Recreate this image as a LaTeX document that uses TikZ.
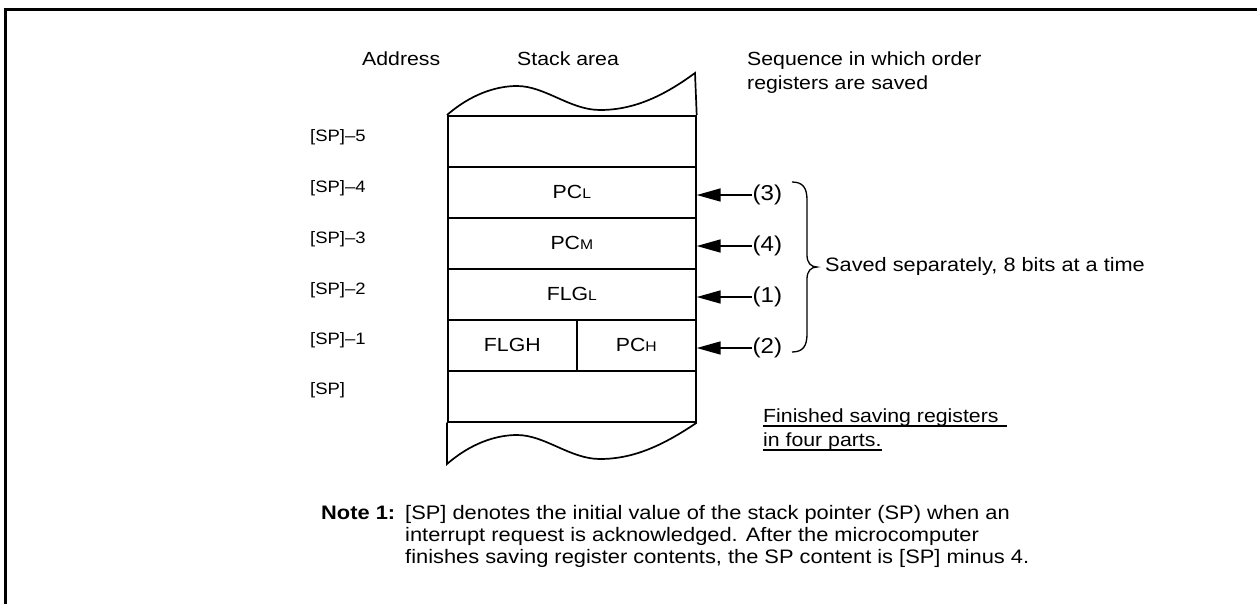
\documentclass[tikz,border=0pt]{standalone}
\usepackage{fontspec}
\setmainfont{Liberation Sans}[FakeStretch=1.12]
\usetikzlibrary{arrows.meta}
\newcommand\fsz[1]{\fontsize{#1}{#1}\selectfont}
\begin{document}
\begin{tikzpicture}[x=1pt,y=-1pt,
  cell/.style={draw, line width=1.7pt, minimum height=51pt, inner sep=0pt, anchor=north west, font=\fsz{19}},
  addr/.style={anchor=west, inner sep=0pt, font=\fsz{16.5}},
  hdr/.style={anchor=base west, inner sep=0pt, font=\fsz{19}},
  num/.style={anchor=west, inner sep=0.5pt, font=\fsz{21.5}},
  arr/.style={line width=1.7pt, -{Triangle[length=24pt,width=13pt]}},
  wave/.style={line width=1.7pt},
  note/.style={anchor=base west, inner sep=0pt, font=\fsz{19.5}}]
\useasboundingbox (0,0) rectangle (1257,603);
% frame
\draw[line width=3pt] (5,640) -- (5,9) -- (1290,9);
% headers
\node[hdr] (hAddr) at (362,65) {Address};
\node[hdr] (hStack) at (517,65) {Stack area};
\node[hdr] (hSeq1) at (747,65) {Sequence in which order};
\node[hdr] (hSeq2) at (747,89) {registers are saved};
% stack rows
\node[cell, minimum width=248pt] (r5) at (447,115) {};
\node[cell, minimum width=248pt] (r4) at (447,166) {PC{\fsz{14}L}};
\node[cell, minimum width=248pt] (r3) at (447,217) {PC{\fsz{14}M}};
\node[cell, minimum width=248pt] (r2) at (447,268) {FLG{\fsz{14}L}};
\node[cell, minimum width=129pt] (r1a) at (447,319) {FLGH};
\node[cell, minimum width=119pt] (r1b) at (576,319) {PC{\fsz{14}H}};
\node[cell, minimum width=248pt] (r0) at (447,370) {};
% wavy top and bottom
\draw[wave] (r5.north west) .. controls (470,95) and (495,86) .. (517,86)
  .. controls (545,86) and (570,110) .. (600,110)
  .. controls (635,110) and (665,95) .. (695,73) -- (r5.north east);
\draw[wave] (r0.south west) -- (447,464) .. controls (470,444) and (495,435) .. (517,435)
  .. controls (545,435) and (570,459) .. (600,459)
  .. controls (635,459) and (665,444) .. (r0.south east);
% address labels
\node[addr] (a5) at (310,137) {[SP]–5};
\node[addr] (a4) at (310,188) {[SP]–4};
\node[addr] (a3) at (310,239) {[SP]–3};
\node[addr] (a2) at (310,290) {[SP]–2};
\node[addr] (a1) at (310,340) {[SP]–1};
\node[addr] (a0) at (310,390) {[SP]};
% order numbers and arrows
\node[num] (n3) at (752,195) {(3)};
\node[num] (n4) at (752,246) {(4)};
\node[num] (n1) at (752,297) {(1)};
\node[num] (n2) at (752,348) {(2)};
\draw[arr] (n3.west) -- (n3.west -| r4.east);
\draw[arr] (n4.west) -- (n4.west -| r3.east);
\draw[arr] (n1.west) -- (n1.west -| r2.east);
\draw[arr] (n2.west) -- (n2.west -| r1b.east);
% brace
\draw[line width=1.3pt] (792,182) .. controls (803,182) and (807,188) .. (807,200) -- (807,255)
  .. controls (807,263) and (811,267) .. (817,267)
  .. controls (811,267) and (807,271) .. (807,279) -- (807,334)
  .. controls (807,346) and (803,352) .. (792,352);
\node[anchor=west, inner sep=0pt, font=\fsz{19.4}] (bt) at (825,266) {Saved separately, 8 bits at a time};
% finished text
\node[hdr] (f1) at (763,422) {Finished saving registers};
\node[hdr] (f2) at (763,446) {in four parts.};
\draw[line width=1.2pt] ([yshift=-4pt]f1.base west) -- ([yshift=-4pt,xshift=8pt]f1.base east);
\draw[line width=1.2pt] ([yshift=-4pt]f2.base west) -- ([yshift=-4pt]f2.base east);
% note
\node[note, font=\fsz{19.5}\bfseries] (nt) at (321,519) {Note 1:};
\node[note] (l1) at (405,519) {[SP] denotes the initial value of the stack pointer (SP) when an};
\node[note] (l2) at (405,541) {interrupt request is acknowledged. After the microcomputer};
\node[note] (l3) at (405,563) {finishes saving register contents, the SP content is [SP] minus 4.};
\end{tikzpicture}
\end{document}
